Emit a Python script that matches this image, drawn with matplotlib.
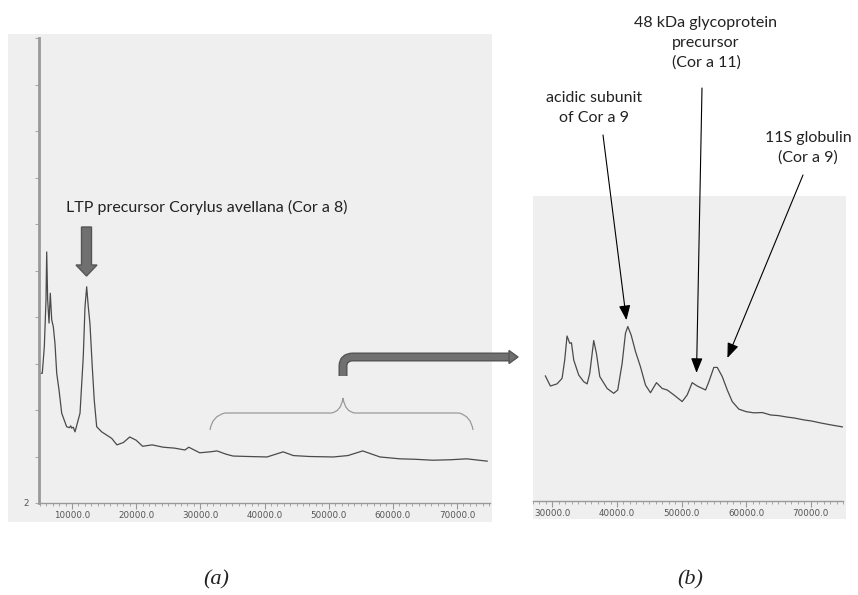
import matplotlib
matplotlib.use("Agg")
import matplotlib.pyplot as plt
from matplotlib.patches import Rectangle, Polygon, PathPatch
from matplotlib.path import Path
from matplotlib.ticker import MultipleLocator, FuncFormatter
import numpy as np

# ---------------- data ----------------
# Panel (a): full spectrum (mass in Da, relative intensity)
mass_a = [4870, 5370, 5690, 5950, 6060, 6210, 6420, 6620, 6840, 7090, 7350,
          7620, 7980, 8400, 9170, 9600, 9800, 9950, 10200, 10470, 11250,
          11760, 12030, 12290, 12540, 12800, 13160, 13470, 13850, 14630,
          16190, 17000, 18000, 19000, 20000, 21000, 22500, 24200, 26000,
          27600, 28200, 29900, 31500, 32600, 34000, 35100, 37500, 40400,
          42900, 44500, 47000, 50700, 53000, 55300, 58000, 61100, 63500,
          66200, 69000, 71500, 74700]
int_a = [4.79, 4.79, 5.36, 6.37, 7.40, 6.37, 5.87, 6.51, 5.94, 5.79, 5.43,
         4.79, 4.43, 3.93, 3.64, 3.62, 3.66, 3.61, 3.63, 3.53, 3.93,
         5.15, 6.22, 6.65, 6.22, 5.86, 4.93, 4.21, 3.64, 3.53,
         3.39, 3.25, 3.3, 3.42, 3.35, 3.22, 3.25, 3.2, 3.18,
         3.14, 3.2, 3.08, 3.1, 3.12, 3.05, 3.01, 3.0, 2.99,
         3.1, 3.02, 3.0, 2.99, 3.02, 3.12, 2.99, 2.95, 2.94,
         2.92, 2.93, 2.95, 2.9]

# Panel (b): zoom on 27-75 kDa region
mass_b = [28915, 29690, 30720, 31500, 31910, 32270, 32690, 32950, 33310,
          34080, 34860, 35380, 35790, 36400, 36820, 37340, 38480, 39500,
          40120, 40800, 41320, 41680, 42200, 42870, 43640, 44420, 45190,
          46120, 47000, 47780, 48800, 50100, 50880, 51650, 52430, 53720,
          54230, 55000, 55530, 56300, 57080, 57850, 58880, 60000, 61200,
          62500, 63800, 65000, 66400, 67500, 68900, 70200, 71500, 73000,
          74900]
int_b = [4.10, 3.77, 3.84, 4.02, 4.62, 5.41, 5.17, 5.19, 4.62,
         4.13, 3.91, 3.84, 4.19, 5.26, 4.84, 4.08, 3.69, 3.53,
         3.64, 4.51, 5.50, 5.72, 5.44, 4.90, 4.40, 3.80, 3.55,
         3.88, 3.69, 3.64, 3.48, 3.26, 3.48, 3.88, 3.77, 3.64,
         3.91, 4.38, 4.38, 4.08, 3.64, 3.26, 3.01, 2.93, 2.89,
         2.90, 2.82, 2.80, 2.75, 2.72, 2.66, 2.62, 2.56, 2.50,
         2.43]

xticks_a = [10000, 20000, 30000, 40000, 50000, 60000, 70000]
xticks_b = [30000, 40000, 50000, 60000, 70000]

W, H = 858, 595
fig = plt.figure(figsize=(W / 100, H / 100), dpi=100)
fig.patch.set_facecolor("white")

def fx(px):
    return px / W

def fy(py):
    return 1 - py / H

# overlay for decorations (pixel coordinates, y down)
ov = fig.add_axes([0, 0, 1, 1], zorder=0)
ov.set_xlim(0, W)
ov.set_ylim(H, 0)
ov.axis("off")

bg = "#efefef"
ov.add_patch(Rectangle((8, 34), 484, 488, facecolor=bg, edgecolor="none"))
ov.add_patch(Rectangle((533, 196), 313, 323, facecolor=bg, edgecolor="none"))

tickfont = dict(family="DejaVu Sans", size=6.3, color="#555555")
fmt = FuncFormatter(lambda v, p: f"{v:.1f}")

# ---------------- panel (a) ----------------
axa = fig.add_axes([fx(39), fy(503), fx(490) - fx(39), fy(38) - fy(503)], zorder=2)
axa.patch.set_alpha(0)
axa.plot(mass_a, int_a, color="#4a4a4a", lw=0.9)
axa.set_xlim(4860, 75140)
axa.set_ylim(2, 12)
for s in ["top", "right"]:
    axa.spines[s].set_visible(False)
axa.spines["left"].set_color("#999999")
axa.spines["left"].set_linewidth(2)
axa.spines["bottom"].set_color("#999999")
axa.spines["bottom"].set_linewidth(1)
axa.set_xticks(xticks_a)
axa.xaxis.set_major_formatter(fmt)
axa.xaxis.set_minor_locator(MultipleLocator(1000))
axa.tick_params(axis="x", which="major", length=4, width=0.8, color="#999999", pad=2)
axa.tick_params(axis="x", which="minor", length=2, width=0.6, color="#999999")
for lb in axa.get_xticklabels():
    lb.set(**tickfont)
axa.set_yticks(np.arange(2, 13, 1))
axa.set_yticklabels(["2"] + [""] * 10)
axa.tick_params(axis="y", length=3, width=0.8, color="#aaaaaa", pad=4)
for lb in axa.get_yticklabels():
    lb.set(**tickfont)

# ---------------- panel (b) ----------------
axb = fig.add_axes([fx(533), fy(501), fx(843) - fx(533), fy(196) - fy(501)], zorder=2)
axb.patch.set_alpha(0)
axb.plot(mass_b, int_b, color="#4a4a4a", lw=0.9)
axb.set_xlim(27000, 75000)
axb.set_ylim(0, 10)
for s in ["top", "right", "left"]:
    axb.spines[s].set_visible(False)
axb.spines["bottom"].set_color("#999999")
axb.spines["bottom"].set_linewidth(1)
axb.set_yticks([])
axb.set_xticks(xticks_b)
axb.xaxis.set_major_formatter(fmt)
axb.xaxis.set_minor_locator(MultipleLocator(1000))
axb.tick_params(axis="x", which="major", length=4, width=0.8, color="#999999", pad=2)
axb.tick_params(axis="x", which="minor", length=2, width=0.6, color="#999999")
for lb in axb.get_xticklabels():
    lb.set(**tickfont)

# ---------------- decorations ----------------
top = fig.add_axes([0, 0, 1, 1], zorder=5)
top.set_xlim(0, W)
top.set_ylim(H, 0)
top.axis("off")
top.patch.set_alpha(0)

lab = dict(family=["Lato", "DejaVu Sans"], size=11.5, color="#222222")

# LTP label and thick arrow
top.text(207, 207, "LTP precursor Corylus avellana (Cor a 8)", ha="center", va="center", **lab)
top.add_patch(Polygon([(81.5, 227), (91.5, 227), (91.5, 265), (97, 265), (86.5, 276),
                       (76, 265), (81.5, 265)], closed=True,
                      facecolor="#707070", edgecolor="#555555", lw=1))

# brace
bv = [(210, 430), (212, 416), (225, 413), (331, 413), (341, 412), (343, 398),
      (345, 412), (355, 413), (459, 413), (471, 416), (473, 430)]
bc = [Path.MOVETO, Path.CURVE3, Path.CURVE3, Path.LINETO, Path.CURVE3, Path.CURVE3,
      Path.CURVE3, Path.CURVE3, Path.LINETO, Path.CURVE3, Path.CURVE3]
top.add_patch(PathPatch(Path(bv, bc), facecolor="none", edgecolor="#9a9a9a", lw=0.9))

# elbow arrow
ev = [(343, 376), (343, 366), (343, 357), (353, 357), (509, 357)]
ec = [Path.MOVETO, Path.LINETO, Path.CURVE3, Path.CURVE3, Path.LINETO]
top.add_patch(PathPatch(Path(ev, ec), facecolor="none", edgecolor="#555555", lw=6.5,
                        capstyle="butt", joinstyle="round"))
top.add_patch(PathPatch(Path(ev, ec), facecolor="none", edgecolor="#707070", lw=4.5,
                        capstyle="butt", joinstyle="round"))
top.add_patch(Polygon([(509, 350.5), (518, 357), (509, 363.5)], closed=True,
                      facecolor="#707070", edgecolor="#555555", lw=1))

# panel (b) annotations
arrowprops = dict(arrowstyle="-|>,head_length=0.9,head_width=0.35", color="black",
                  lw=0.8, shrinkA=0, shrinkB=0)
top.text(594, 108, "acidic subunit\nof Cor a 9", ha="center", va="center",
         linespacing=1.5, **lab)
axb.annotate("", xy=(41470, 5.93), xycoords="data", xytext=(603, 135),
             textcoords=top.transData, arrowprops=arrowprops, annotation_clip=False)
top.text(706, 43, "48 kDa glycoprotein\nprecursor\n(Cor a 11)", ha="center",
         va="center", linespacing=1.5, **lab)
axb.annotate("", xy=(52320, 4.20), xycoords="data", xytext=(702, 88),
             textcoords=top.transData, arrowprops=arrowprops, annotation_clip=False)
top.text(808, 148, "11S globulin\n(Cor a 9)", ha="center", va="center",
         linespacing=1.5, **lab)
axb.annotate("", xy=(57100, 4.69), xycoords="data", xytext=(803, 175),
             textcoords=top.transData, arrowprops=arrowprops, annotation_clip=False)

cap = dict(family="Liberation Serif", style="italic", size=16, color="#222222")
top.text(216, 580, "(a)", ha="center", va="center", **cap)
top.text(690, 580, "(b)", ha="center", va="center", **cap)

fig.savefig("out.png", dpi=100, facecolor="white")
